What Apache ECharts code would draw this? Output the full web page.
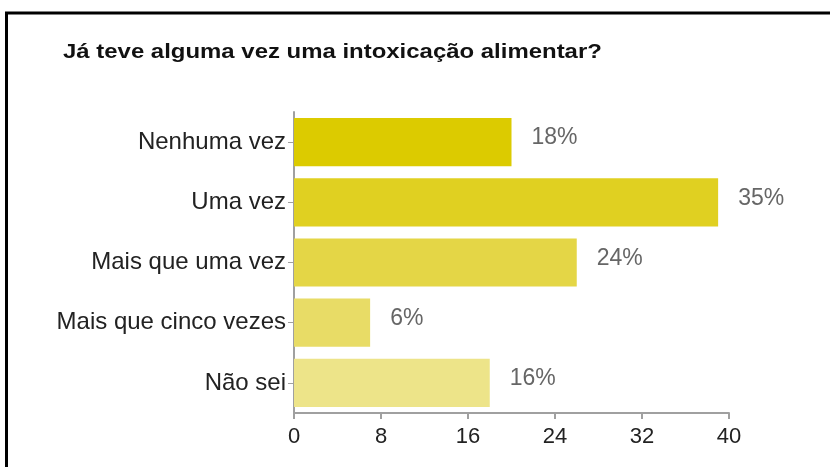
<!DOCTYPE html>
<html>
<head>
<meta charset="utf-8">
<script src="https://cdn.jsdelivr.net/npm/echarts@6/dist/echarts.min.js"></script>
<style>
  html, body { margin: 0; padding: 0; background: #fff; }
  #chart { width: 830px; height: 467px; }
</style>
</head>
<body>
<div id="chart"></div>
<script>
const titleText = 'Já teve alguma vez uma intoxicação alimentar?'
const categories = ['Nenhuma vez', 'Uma vez', 'Mais que uma vez', 'Mais que cinco vezes', 'Não sei']
const counts = [20, 39, 26, 7, 18]
const percents = [18, 35, 24, 6, 16]
const barColors = ['#dccb00', '#e0d021', '#e4d646', '#e8dc66', '#ede489']
const xTicks = [0, 8, 16, 24, 32, 40]

// echarts draws category axis from bottom up, so reverse
const cats = categories.slice().reverse()
const data = counts.map((v, i) => {
  return {
    value: v,
    pct: percents[i],
    itemStyle: {color: barColors[i]}
  }
}).reverse()

const chart = echarts.init(document.getElementById('chart'))

const option = {
  animation: false,
  backgroundColor: '#fff',
  graphic: [
    {
      type: 'polyline',
      shape: {points: [[6.5, 467], [6.5, 13], [830, 13]]},
      style: {stroke: '#000', lineWidth: 3, fill: null}
    },
    {
      // title, stretched a bit wider like the original
      type: 'text',
      left: 63,
      top: 42,
      scaleX: 1.14,
      style: {
        text: titleText,
        fontFamily: 'Liberation Sans',
        fontWeight: 'bold',
        fontSize: 21,
        fill: '#111'
      }
    }
  ],
  grid: {
    left: 294,
    right: 101,
    top: 112,
    bottom: 54
  },
  xAxis: {
    type: 'value',
    min: xTicks[0],
    max: xTicks[xTicks.length - 1],
    interval: 8,
    splitLine: {show: false},
    axisLine: {show: true, lineStyle: {color: '#a0a0a0', width: 2}},
    axisTick: {show: true, length: 6, lineStyle: {color: '#a0a0a0', width: 2}},
    axisLabel: {
      fontFamily: 'Liberation Sans',
      fontSize: 22,
      color: '#222',
      margin: 13
    }
  },
  yAxis: {
    type: 'category',
    data: cats,
    axisLine: {show: true, lineStyle: {color: '#a0a0a0', width: 2}},
    axisTick: {show: true, alignWithLabel: true, length: 6, lineStyle: {color: '#a0a0a0', width: 1}},
    axisLabel: {
      fontFamily: 'Liberation Sans',
      fontSize: 24,
      color: '#222',
      margin: 8
    }
  },
  series: [
    {
      type: 'bar',
      data: data,
      barCategoryGap: '20%',
      label: {
        show: true,
        position: 'right',
        distance: 20,
        offset: [0, -4],
        fontFamily: 'Liberation Sans',
        fontSize: 23,
        color: '#666',
        formatter: (p) => p.data.pct + '%'
      }
    }
  ]
}

chart.setOption(option)
</script>
</body>
</html>
